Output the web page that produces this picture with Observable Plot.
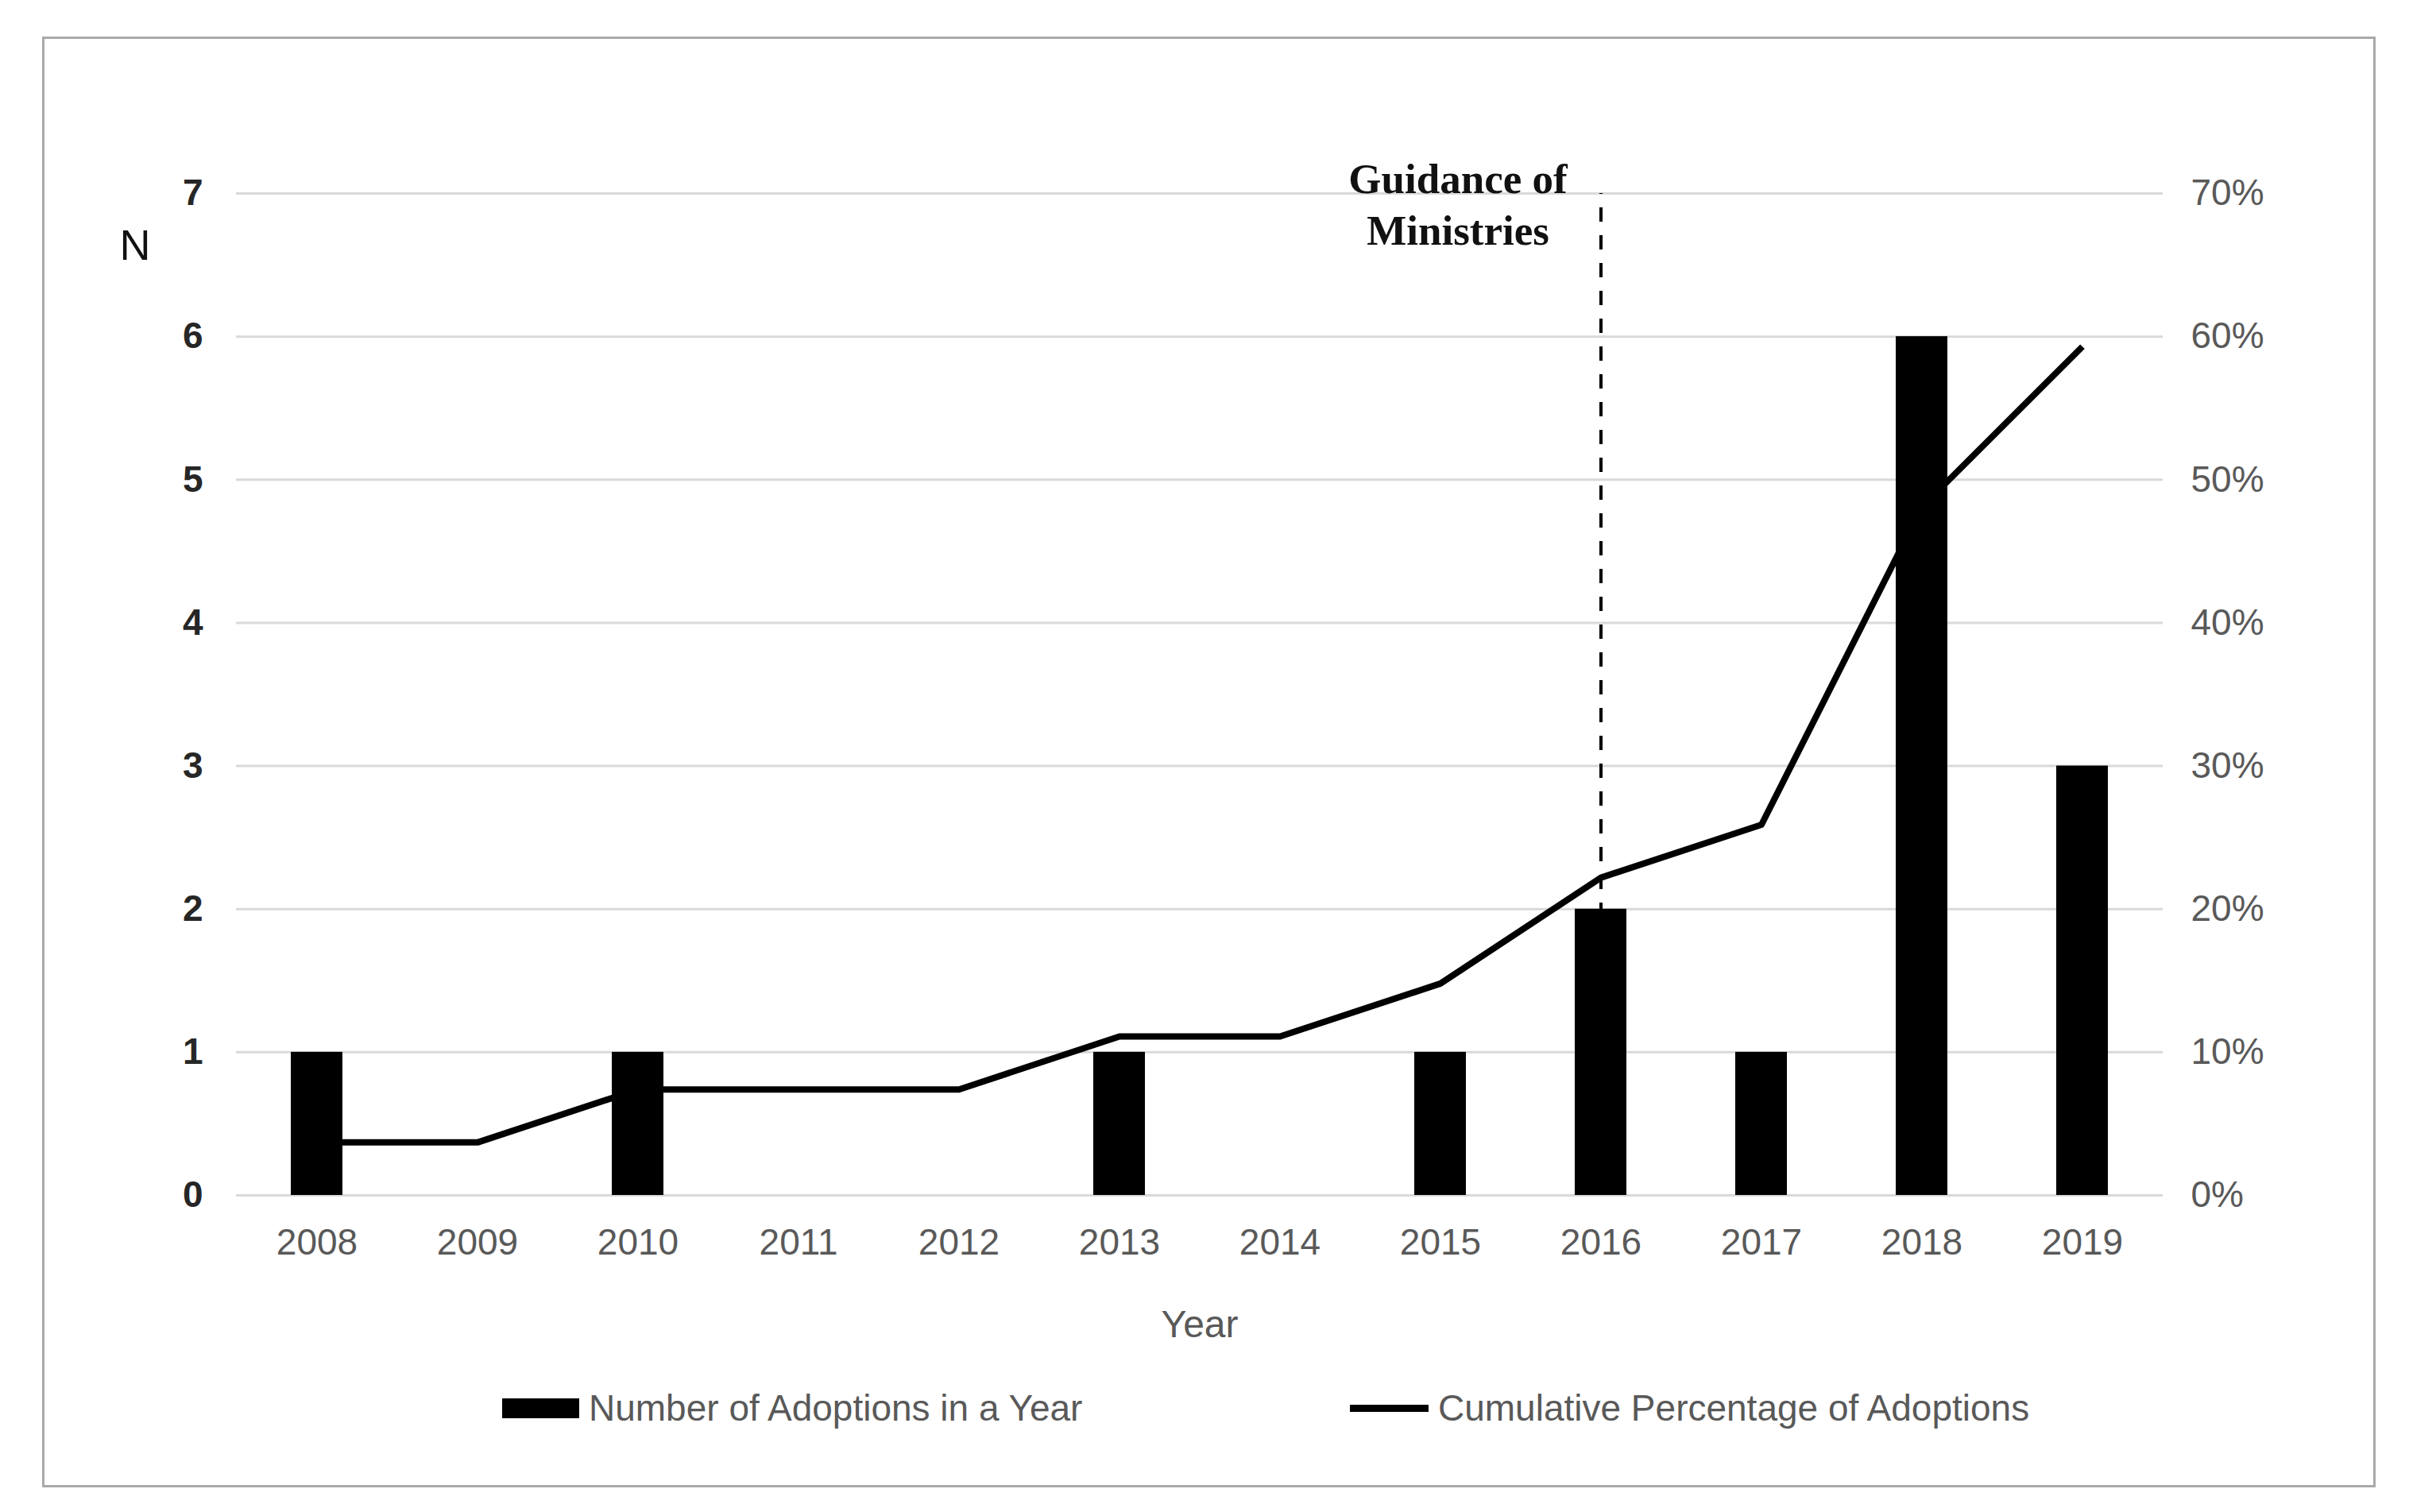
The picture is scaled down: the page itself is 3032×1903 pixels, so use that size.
<!DOCTYPE html>
<html>
<head>
<meta charset="utf-8">
<script src="https://cdn.jsdelivr.net/npm/d3@7"></script>
<script src="https://cdn.jsdelivr.net/npm/@observablehq/plot@0.6"></script>
<style>
  html, body { margin: 0; padding: 0; background: #fff; }
  #page { position: relative; width: 3032px; height: 1903px; overflow: hidden; font-family: "Liberation Sans", Arial, sans-serif; }
  #frame { position: absolute; left: 53px; top: 46px; width: 2937px; height: 1826px; border: 3px solid #a9a9a9; box-sizing: border-box; }
  #chart { position: absolute; left: 0; top: 0; }
  .leg { position: absolute; top: 1772px; transform: translateY(-50%); display: flex; align-items: center; font-size: 46px; color: #595959; white-space: nowrap; }
  .sw-bar { width: 97px; height: 25px; background: #000; margin-right: 12px; }
  .sw-line { width: 99px; height: 9px; background: #000; margin-right: 12px; }
</style>
</head>
<body>
<div id="page">
  <div id="frame"></div>
  <div id="chart"></div>
  <div class="leg" style="left:632px"><div class="sw-bar"></div><span id="leg1"></span></div>
  <div class="leg" style="left:1699px"><div class="sw-line"></div><span id="leg2"></span></div>
</div>
<script>
// ---- data ----
const years = ["2008","2009","2010","2011","2012","2013","2014","2015","2016","2017","2018","2019"];
const adoptions = [1, 0, 1, 0, 0, 1, 0, 1, 2, 1, 6, 3];
const cumulativePct = [3.7, 3.7, 7.4, 7.4, 7.4, 11.1, 11.1, 14.8, 22.2, 25.9, 48.1, 59.3];
const nTicks = [0, 1, 2, 3, 4, 5, 6, 7];
const nTickLabels = ["0", "1", "2", "3", "4", "5", "6", "7"];
const pctTickLabels = ["0%", "10%", "20%", "30%", "40%", "50%", "60%", "70%"];
const xAxisLabel = "Year";
const yAxisLabel = "N";
const guidanceYear = "2016";
const guidanceLabel = "Guidance of\nMinistries";
const legendLabels = ["Number of Adoptions in a Year", "Cumulative Percentage of Adoptions"];

const rows = years.map((year, i) => ({year, n: adoptions[i], pct: cumulativePct[i]}));

document.getElementById("leg1").textContent = legendLabels[0];
document.getElementById("leg2").textContent = legendLabels[1];

const W = 3032, H = 1720;
const chart = Plot.plot({
  width: W,
  height: H,
  marginLeft: 297,
  marginRight: 310,
  marginTop: 243,
  marginBottom: 216,
  style: { fontFamily: "'Liberation Sans', Arial, sans-serif", fontSize: "46px", background: "transparent", overflow: "visible" },
  x: { type: "band", domain: years, paddingInner: 0.68, paddingOuter: 0.34 },
  y: { domain: [0, d3.max(nTicks)] },
  marks: [
    Plot.ruleY(nTicks, { stroke: "#d9d9d9", strokeWidth: 3 }),
    Plot.barY(rows.filter(d => d.n > 0), { x: "year", y: "n", fill: "#000" }),
    Plot.ruleX([guidanceYear], { x: d => d, y1: 0, y2: d3.max(nTicks), stroke: "#000", strokeWidth: 4, strokeDasharray: "18,17" }),
    Plot.line(rows, { x: "year", y: d => d.pct / 10, stroke: "#000", strokeWidth: 8, strokeLinejoin: "round", strokeLinecap: "butt" }),
    Plot.axisX(years, { anchor: "bottom", tickSize: 0, tickPadding: 42, fill: "#595959", fontSize: 46, label: null }),
    Plot.axisY(nTicks, { anchor: "left", tickSize: 0, tickPadding: 42, fill: "#262626", fontWeight: "bold", fontSize: 46, label: null,
      tickFormat: d => nTickLabels[nTicks.indexOf(d)] }),
    Plot.axisY(nTicks, { anchor: "right", tickSize: 0, tickPadding: 35, fill: "#595959", fontSize: 46, textAnchor: "start", label: null,
      tickFormat: d => pctTickLabels[nTicks.indexOf(d)] }),
    Plot.text([xAxisLabel], { frameAnchor: "bottom", text: d => d, dy: 178, fill: "#595959", fontSize: 48 }),
    Plot.text([yAxisLabel], { frameAnchor: "top-left", text: d => d, dx: -147, dy: 45, fill: "#111", fontSize: 54 }),
    Plot.text([{year: guidanceYear, label: guidanceLabel}], { x: "year", frameAnchor: "top", text: "label",
      dx: -180, dy: -46, lineAnchor: "top", lineHeight: 1.22, fontFamily: "'Liberation Serif', 'Times New Roman', serif",
      fontWeight: "bold", fontSize: 53, fill: "#111" })
  ]
});
document.getElementById("chart").appendChild(chart);
</script>
</body>
</html>
